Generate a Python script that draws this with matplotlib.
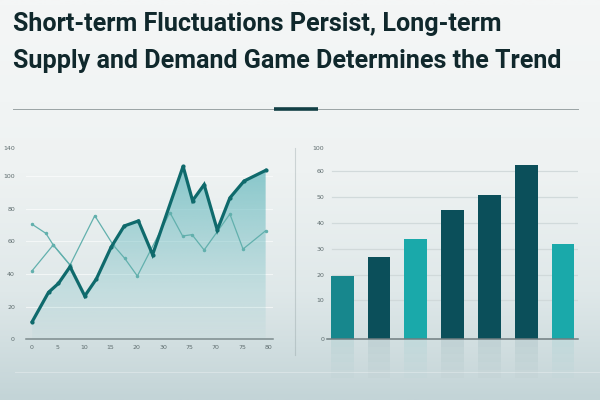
import numpy as np
import matplotlib
matplotlib.use("Agg")
import matplotlib.pyplot as plt
from matplotlib.colors import LinearSegmentedColormap, to_rgb

# ---- data ----
title_lines = ["Short-term Fluctuations Persist, Long-term",
               "Supply and Demand Game Determines the Trend"]

trend_x = [0.1, 3.2, 5.1, 7.3, 10.1, 12.3, 15.1, 17.6, 20.3, 23.0, 28.8,
           30.6, 32.8, 35.3, 37.7, 40.4, 44.5]
trend_y = [10.8, 28.7, 34.2, 44.4, 26.5, 36.9, 56.3, 69.3, 72.4, 51.8, 105.8,
           84.8, 94.6, 66.9, 86.5, 96.8, 103.3]

swing_x = [0.1, 2.7, 4.1, 7.3, 12.0, 15.5, 17.7, 20.1, 26.3, 28.7, 30.5,
           32.8, 37.7, 40.2, 44.5]
swing_y = [70.3, 64.8, 57.7, 45.4, 75.6, 57.7, 49.5, 38.7, 77.5, 63.2, 64.0,
           54.6, 76.6, 55.2, 66.4]

swing2_x = [0.1, 4.1, 7.3]
swing2_y = [42.0, 57.7, 45.4]

left_xticks = [0, 5, 10, 15, 20, 25, 30, 35, 40, 45]
left_xlabels = ['0', '5', '10', '15', '20', '30', '75', '70', '75', '80']
left_yticks = [0, 20, 40, 60, 80, 100, 117]
left_ylabels = ['0', '20', '40', '60', '80', '100', '140']

bar_vals = [24.1, 31.3, 38.3, 49.4, 55.3, 66.7, 36.4]
bar_colors = ['#17878d', '#0b4f5a', '#1aa9aa', '#0b4f5a', '#0b4f5a', '#0b4f5a', '#1aa9aa']
right_yticks = [0, 14.9, 24.5, 34.5, 44.5, 54.6, 64.6, 73.4]
right_ylabels = ['0', '10', '20', '30', '40', '50', '60', '100']

fig = plt.figure(figsize=(6, 4), dpi=100)

# background gradient
bg = fig.add_axes([0, 0, 1, 1], zorder=-10)
bg_cmap = LinearSegmentedColormap.from_list('bg', ['#f4f6f6', '#eef2f2', '#dfe8e9', '#c3d4d7'])
grad = np.linspace(0, 1, 256).reshape(-1, 1) ** 1.3
bg.imshow(grad, aspect='auto', cmap=bg_cmap, extent=[0, 1, 0, 1], origin='upper')
bg.set_xlim(0, 1)
bg.set_ylim(0, 1)
bg.axis('off')
# faint floor line, divider between panels
bg.plot([0.025, 1.0], [1 - 372 / 400, 1 - 372 / 400], color='white', alpha=0.3, lw=0.8)
bg.plot([295 / 600, 295 / 600], [1 - 355 / 400, 1 - 148 / 400], color='#8a9a9c', alpha=0.35, lw=0.8)
# header rule
bg.plot([13 / 600, 578 / 600], [1 - 108.7 / 400] * 2, color='#9aa3a4', lw=0.7)
bg.plot([274 / 600, 318 / 600], [1 - 108.7 / 400] * 2, color='#123f45', lw=2.6,
        solid_capstyle='butt')

# title, sized so the second line spans the same width as in the reference
renderer = fig.canvas.get_renderer()
titles = []
for i, line in enumerate(title_lines):
    t = fig.text(13 / 600, 1 - (30.7 + 37.6 * i) / 400, line, fontsize=22,
                 fontweight='bold', family=['Liberation Sans Narrow', 'Roboto'],
                 color='#10282c', ha='left', va='baseline')
    titles.append(t)
w = titles[1].get_window_extent(renderer).width
for t in titles:
    t.set_fontsize(22 * 548 / w)

# ---- left panel: line chart ----
ax = fig.add_axes([26 / 600, 1 - 339.3 / 400, 247 / 600, 199.3 / 400])
ax.set_xlim(-1.08, 45.9)
ax.set_ylim(0, (339.3 - 140) / 1.635)
ax.patch.set_alpha(0)

# gradient fill under the trend line
teal = to_rgb('#5fb6bb')
ny = 200
alpha = np.linspace(0.75, 0.05, ny) ** 1.1
img = np.zeros((ny, 1, 4))
img[:, 0, :3] = teal
img[:, 0, 3] = alpha
top = max(trend_y)
im = ax.imshow(img, aspect='auto', extent=[trend_x[0], trend_x[-1], 0, top],
               origin='upper', zorder=1)
poly = ax.fill_between(trend_x, trend_y, 0, color='none')
im.set_clip_path(poly.get_paths()[0], transform=ax.transData)

for v in [20, 40, 60, 80, 100]:
    ax.axhline(v, color='white', lw=0.8, alpha=0.6, zorder=0.5)

ax.plot(swing_x, swing_y, color='#62b0ad', lw=0.9, marker='o', ms=1.5, zorder=2)
ax.plot(swing2_x, swing2_y, color='#62b0ad', lw=0.9, marker='o', ms=1.5, zorder=2)
ax.plot(trend_x, trend_y, color='#0f6a6c', lw=2.3, marker='o', ms=2.0,
        solid_joinstyle='miter', zorder=3)

ax.set_xticks(left_xticks, left_xlabels)
ax.set_yticks(left_yticks, left_ylabels)
ax.tick_params(length=0, labelsize=4.5, colors='#5d6b6d')
ax.tick_params(axis='y', pad=8)
ax.tick_params(axis='x', pad=4)
for s in ['top', 'right', 'left']:
    ax.spines[s].set_visible(False)
ax.spines['bottom'].set_color('#7d8b8d')
ax.spines['bottom'].set_linewidth(1.1)

# ---- right panel: bar chart ----
bx = fig.add_axes([327 / 600, 1 - 338.7 / 400, 251 / 600, 198.7 / 400])
pos = np.arange(len(bar_vals))
bx.set_xlim(-0.413, 6.41)
bx.set_ylim(0, (338.7 - 140) / 2.6)
bx.patch.set_alpha(0)
for v in right_yticks[1:-1]:
    bx.axhline(v, xmin=0.02, color='#cfd8d9', lw=0.9, alpha=0.9, zorder=0.5)
bx.bar(pos, bar_vals, width=0.62, color=bar_colors, zorder=2)
# soft reflections under the baseline
for k in range(5):
    bx.bar(pos, [-3.0] * len(pos), bottom=-3.0 * k, width=0.62, color=bar_colors,
           alpha=0.08 * (1 - k / 5), clip_on=False, zorder=1, linewidth=0)

bx.set_xticks([])
bx.set_yticks(right_yticks, right_ylabels)
bx.tick_params(length=0, labelsize=4.5, colors='#5d6b6d', pad=2)
for s in ['top', 'right', 'left']:
    bx.spines[s].set_visible(False)
bx.spines['bottom'].set_color('#6f7d80')
bx.spines['bottom'].set_linewidth(1.1)

fig.savefig('out.png', dpi=100)
